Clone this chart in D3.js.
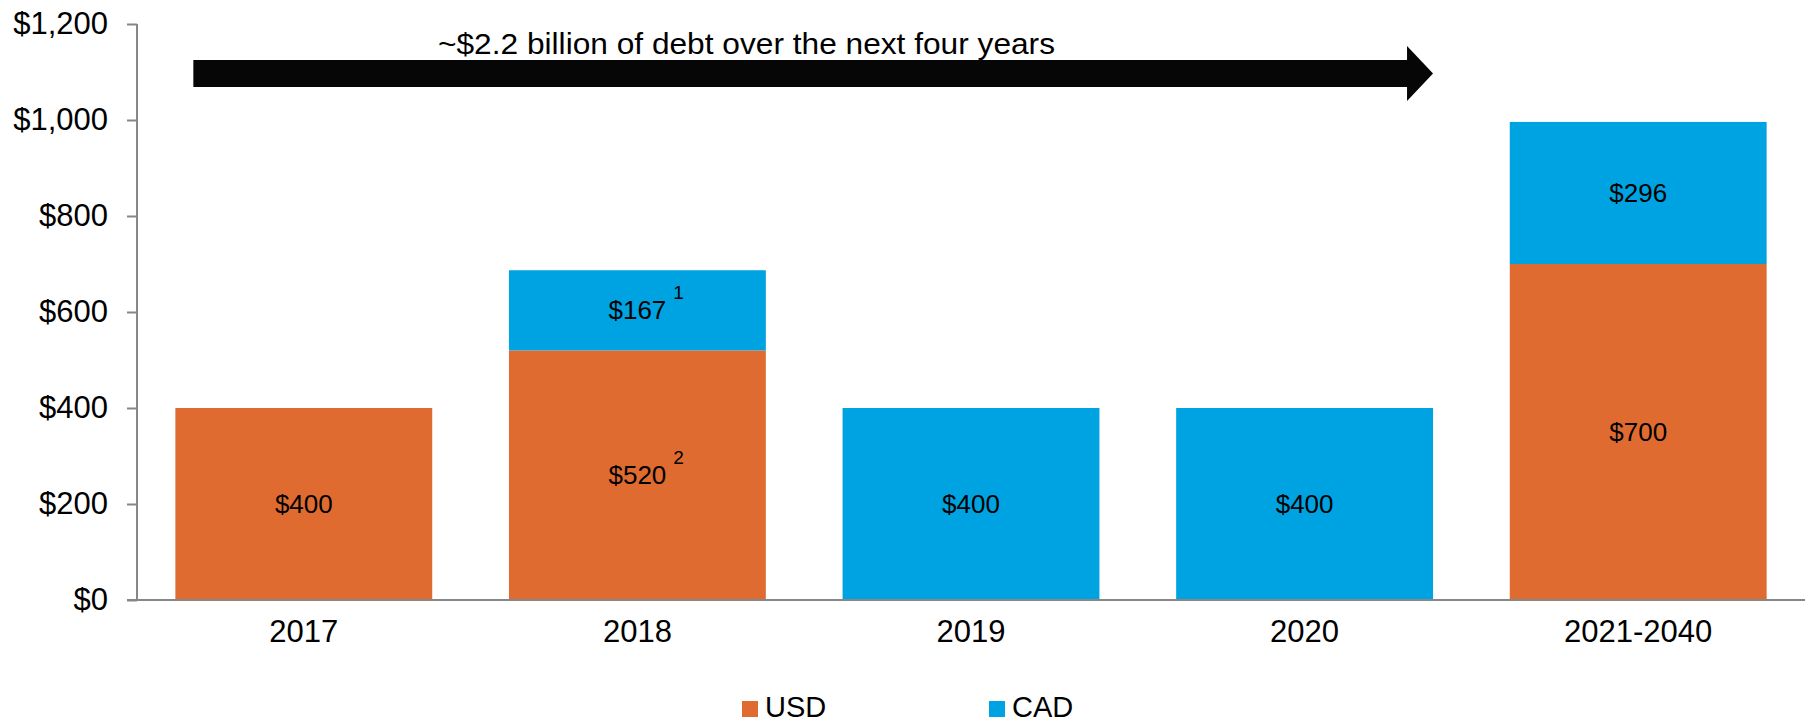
<!DOCTYPE html>
<html>
<head>
<meta charset="utf-8">
<script src="https://cdn.jsdelivr.net/npm/d3@7"></script>
<style>
  html, body { margin: 0; padding: 0; background: #fff; }
  svg { display: block; font-family: "Liberation Sans", Arial, sans-serif; }
</style>
</head>
<body>
<svg id="chart" width="1810" height="725"></svg>
<script>
// Debt maturities (US$ millions) by year
const categories = ["2017", "2018", "2019", "2020", "2021-2040"];
const usdValues  = [400, 520, 0, 0, 700];
const cadValues  = [0, 167, 400, 400, 296];
const footnotesUSD = ["", "2", "", "", ""];
const footnotesCAD = ["", "1", "", "", ""];
const seriesNames = ["USD", "CAD"];
const yTicks = [0, 200, 400, 600, 800, 1000, 1200];
const arrowLabel = "~$2.2 billion of debt over the next four years";
const arrowFrom = "2017", arrowTo = "2020", arrowLevel = 1097;

const colors = { USD: "#DF6B31", CAD: "#00A3E1" };

const svg = d3.select("#chart");
const axisColor = "#878787";

const x = d3.scaleBand()
  .domain(categories)
  .range([137, 1805])
  .paddingInner(0.23)
  .paddingOuter(0.115);

const y = d3.scaleLinear().domain([0, 1200]).range([600, 24]);

// stacked data
const rows = categories.map((c, i) => ({ cat: c, USD: usdValues[i], CAD: cadValues[i], i }));
const stack = d3.stack().keys(seriesNames)(rows);

const barG = svg.append("g");
stack.forEach(layer => {
  barG.selectAll(null)
    .data(layer.filter(d => d[1] - d[0] > 0))
    .join("rect")
    .attr("x", d => x(d.data.cat))
    .attr("width", x.bandwidth())
    .attr("y", d => y(d[1]))
    .attr("height", d => y(d[0]) - y(d[1]))
    .attr("fill", colors[layer.key]);
});

// value labels inside segments
const fmt = v => "$" + d3.format(",")(v);
const labelG = svg.append("g").attr("font-size", 26).attr("fill", "#000");
stack.forEach(layer => {
  const notes = layer.key === "USD" ? footnotesUSD : footnotesCAD;
  layer.filter(d => d[1] - d[0] > 0).forEach(d => {
    const cx = x(d.data.cat) + x.bandwidth() / 2;
    const cy = (y(d[0]) + y(d[1])) / 2;
    const t = labelG.append("text")
      .attr("x", cx)
      .attr("y", cy)
      .attr("dy", "0.35em")
      .attr("text-anchor", "middle")
      .text(fmt(d[1] - d[0]));
    const note = notes[d.data.i];
    if (note) {
      const w = t.node().getComputedTextLength();
      labelG.append("text")
        .attr("x", cx + w / 2 + 7)
        .attr("y", cy)
        .attr("dy", "-0.6em")
        .attr("font-size", 19)
        .text(note);
    }
  });
});

// y axis
const yAxis = d3.axisLeft(y)
  .tickValues(yTicks)
  .tickSize(10)
  .tickPadding(19)
  .tickFormat(fmt);
const yG = svg.append("g").attr("transform", "translate(137,0)").call(yAxis);
yG.select(".domain").attr("stroke", axisColor).attr("stroke-width", 2).attr("d", `M0,${y(1200)}V${y(0)}`);
yG.selectAll(".tick line").attr("stroke", axisColor).attr("stroke-width", 2);
yG.selectAll(".tick text").attr("font-size", 31).attr("fill", "#000")
  .attr("font-family", '"Liberation Sans", Arial, sans-serif');

// x axis
const xAxis = d3.axisBottom(x).tickSize(0).tickPadding(20);
const xG = svg.append("g").attr("transform", `translate(0,${y(0)})`).call(xAxis);
xG.select(".domain").attr("stroke", axisColor).attr("stroke-width", 2)
  .attr("d", `M127,0H${x.range()[1]}`);
xG.selectAll(".tick text").attr("font-size", 31).attr("fill", "#000")
  .attr("font-family", '"Liberation Sans", Arial, sans-serif');

// arrow spanning the next four years
const ax0 = x(arrowFrom) + x.bandwidth() * 0.07;
const ax1 = x(arrowTo) + x.bandwidth();
const ay = y(arrowLevel);
const shaftHalf = 13.5, headHalf = 27.5, headLen = 26;
svg.append("path")
  .attr("d", [
    [ax0, ay - shaftHalf], [ax1 - headLen, ay - shaftHalf], [ax1 - headLen, ay - headHalf],
    [ax1, ay], [ax1 - headLen, ay + headHalf], [ax1 - headLen, ay + shaftHalf], [ax0, ay + shaftHalf]
  ].map((p, i) => (i ? "L" : "M") + p[0] + "," + p[1]).join("") + "Z")
  .attr("fill", "#060606");

svg.append("text")
  .attr("x", 438)
  .attr("y", ay - 19.5)
  .attr("font-size", 29.5)
  .attr("fill", "#000")
  .attr("textLength", 617)
  .attr("lengthAdjust", "spacingAndGlyphs")
  .text(arrowLabel);

// legend
const legendX = [742, 989];
const legend = svg.append("g");
seriesNames.forEach((name, i) => {
  legend.append("rect")
    .attr("x", legendX[i]).attr("y", 701)
    .attr("width", 16).attr("height", 16)
    .attr("fill", colors[name]);
  legend.append("text")
    .attr("x", legendX[i] + 23).attr("y", 717)
    .attr("font-size", 29).attr("fill", "#000")
    .text(name);
});
</script>
</body>
</html>
